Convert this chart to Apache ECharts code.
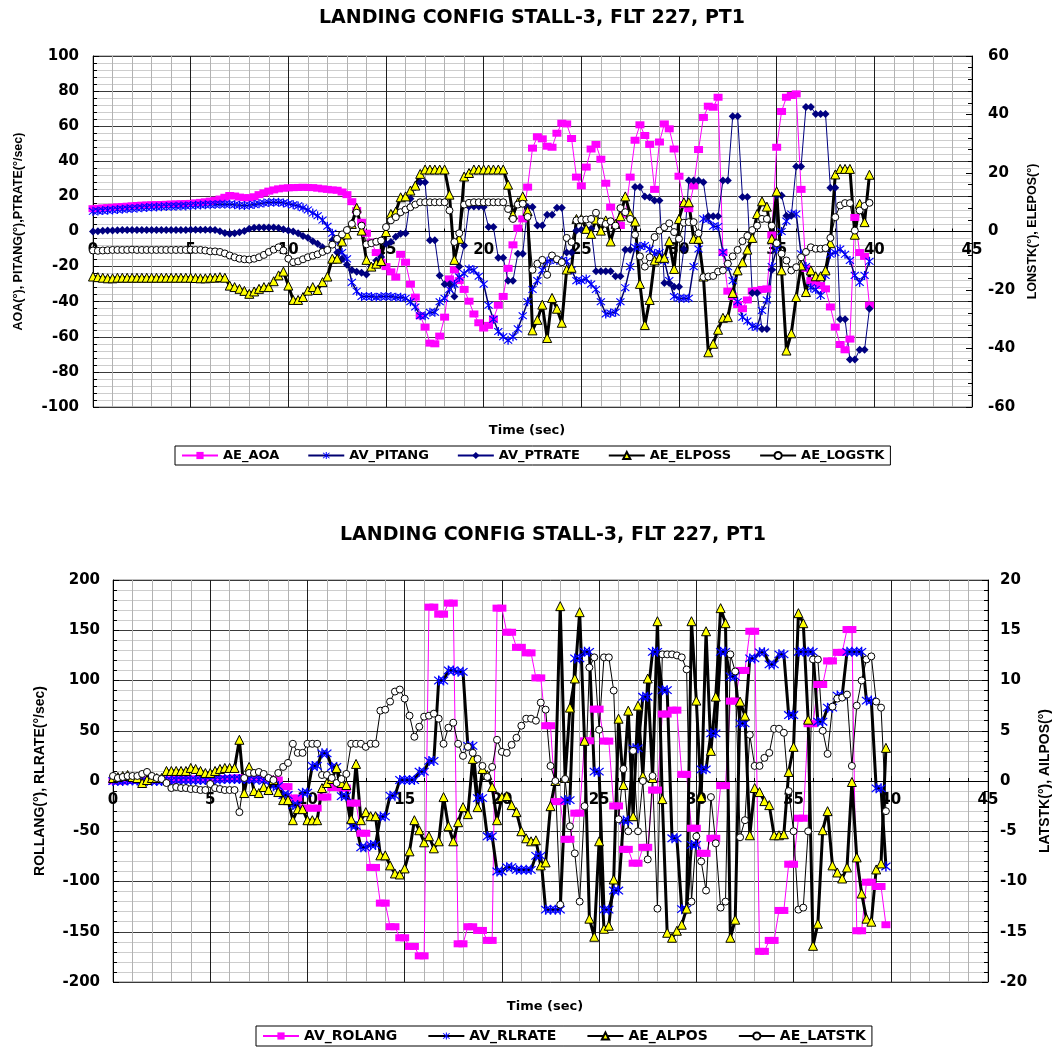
<!DOCTYPE html>
<html>
<head>
<meta charset="utf-8">
<title>Landing config stall-3, FLT 227, PT1</title>
<script src="https://cdn.jsdelivr.net/npm/echarts@6.0.0/dist/echarts.min.js"></script>
<style>
  html, body { margin: 0; padding: 0; background: #fff; }
  #chart { width: 1060px; height: 1049px; }
</style>
</head>
<body>
<div id="chart"></div>
<script>
// flight test channels, one value every sampleStep seconds starting at t = 0
const sampleStep = 0.25;

// ---- upper plot ----
const topTitle = 'LANDING CONFIG STALL-3, FLT 227, PT1';
const topNames = ['AE_AOA', 'AV_PITANG', 'AV_PTRATE', 'AE_ELPOSS', 'AE_LOGSTK'];

// left axis (deg, deg/sec)
const aeAoa = [
  13, 13.2, 13.4, 13.6, 13.8, 14, 14.2, 14.4, 14.6, 14.8, 15, 15.1, 15.2, 15.3, 15.4, 15.5, 15.6, 15.7, 15.8, 15.9,
  16, 16.3, 16.6, 16.9, 17.3, 17.8, 18.5, 19.5, 20.5, 20.2, 19.6, 19.3, 19.2, 19.8, 21, 22, 23, 23.7, 24.3, 24.7,
  24.9, 25, 25.1, 25.2, 25.1, 25, 24.7, 24.3, 24, 23.7, 23.5, 22.5, 21, 17, 12, 5.3, -1, -6, -12, -17.5,
  -20, -23, -26, -13, -17.5, -30, -37.4, -48, -54.5, -63.6, -64, -59.6, -48.8, -27, -21.8, -28, -33, -39.7, -47, -52,
  -55, -53.5, -49.8, -42, -37, -21, -7.6, 1.9, 7.2, 25.3, 47.5, 54, 52.8, 48.6, 48, 56, 61.7, 61.3, 53, 31,
  26, 36.7, 47, 49.6, 41.2, 27.5, 13.9, 4.4, 3.4, 10, 31, 52, 60.8, 54.7, 49.6, 24, 51, 61.3, 58.5, 47,
  31.5, 15.4, 13, 26, 46.7, 65, 71.4, 70.8, 76.5, -12, -34, -37, -41.6, -44, -39, -34, -33.6, -33, -32.7, -2,
  48, 68.4, 76.5, 77.5, 78.4, 24, -21, -28, -29.4, -30.8, -32.7, -43, -54.5, -64.4, -67.4, -61.3, 8, -12, -14.2, -42
];
const avPitang = [
  11.5, 11.7, 11.9, 12.1, 12.3, 12.5, 12.7, 12.9, 13.1, 13.3, 13.5, 13.7, 13.9, 14, 14.1, 14.2, 14.3, 14.4, 14.5, 14.6,
  14.8, 15, 15.1, 15.2, 15.3, 15.4, 15.5, 15.5, 15.5, 15.2, 15, 14.8, 15, 15.4, 15.8, 16.2, 16.5, 16.7, 16.7, 16.3,
  15.8, 15.2, 14.6, 13.5, 12.3, 10.5, 9, 6.5, 3, -1, -5, -12, -15.6, -29, -34, -37, -37, -37, -37.5, -37,
  -37, -37, -37.5, -37.5, -38, -40, -43, -48, -48, -46, -46, -40, -38, -33, -30, -26, -24, -21.3, -22, -25.5,
  -30, -42, -50, -57, -60, -62, -60, -55.5, -48, -40, -33, -28, -22, -17, -16, -16.5, -16.5, -17, -22, -28,
  -28, -27, -30, -33, -40, -47, -46.5, -46, -40, -32, -20, -9, -8.5, -8, -10, -12.7, -12, -16.5, -28, -37,
  -38, -38, -38, -20, -10, 7.2, 7, 3, 2.8, -11.8, -20, -28, -40, -48.8, -51, -54, -54.5, -45, -39, -20,
  -10, 0, 5.9, 10, 10, -12.7, -20, -32, -33, -36.5, -25, -13, -12, -10, -13, -16.5, -25, -29, -25, -17
];
const avPtrate = [
  0, 0.2, 0.4, 0.5, 0.6, 0.7, 0.8, 0.8, 0.8, 0.8, 0.8, 0.8, 0.8, 0.8, 0.8, 0.8, 0.8, 0.8, 0.9, 0.9,
  1, 1, 1, 1, 1, 0.8, 0.2, -0.8, -1.3, -1, -0.4, 0.3, 1.5, 2.2, 2.3, 2.3, 2.3, 2.3, 2, 1.3,
  0.5, 0, -1, -2.5, -3.5, -5.5, -7, -9, -10.8, -5, -12, -15.6, -19, -22, -23, -23.5, -24.5, -20, -16.5, -14.6,
  -7, -6, -3, -1.3, -1, 18.6, 25.3, 28, 28, -5, -5, -25, -30, -30, -37, -20, -8, 14.2, 14.2, 14.2,
  14, 2.5, 2.5, -15, -15, -28, -28, -12.7, -12.7, 13.9, 13.9, 3.4, 3.4, 9.5, 9.5, 13.5, 13.5, -12, -12, 0.6,
  1, 1.5, 1.5, -22.6, -22.6, -22.6, -22.6, -25.5, -25.5, -10.4, -10.4, 25.3, 25.3, 20, 19.5, 17.6, 17.6, -29.4, -29.4, -31.5,
  -31.5, -10, 29, 29, 29, 28, 8.7, 8.7, 8.7, 29, 29, 65.7, 65.7, 19.6, 19.6, -35, -35, -55.5, -55.5, -22,
  20.5, 20.5, 9, 9, 37, 37, 71, 71, 67, 67, 67, 25, 25, -50, -50, -73, -73, -67.4, -67.4, -44
];
// right axis (deg)
const aeElposs = [
  -15.4, -15.6, -15.8, -16, -16, -15.8, -15.8, -15.8, -15.8, -15.8, -15.8, -15.8, -15.8, -15.8, -15.8, -15.8, -15.8, -15.8, -15.8, -15.8,
  -15.8, -15.9, -16, -16, -15.8, -15.8, -15.6, -15.8, -18.5, -19, -19.6, -20.3, -21.3, -20.5, -19.6, -19, -19, -17, -15, -13.7,
  -18.5, -23.4, -23.4, -22.4, -20.2, -19, -20, -17.3, -15.4, -9.3, -9.3, -3.4, -1, 2.6, 8.1, 0.3, -9.7, -12, -11, -10.1,
  -0.2, 6, 6.8, 11.7, 12, 14, 15.7, 19.7, 21.2, 21.2, 21.2, 21.2, 21.2, 12.6, -9.7, -2.5, 18.8, 20, 21.2, 21.2,
  21.2, 21.2, 21.2, 21.2, 21.2, 16, 5.8, 10, 12, 7, -33.8, -30.2, -25, -36.4, -22.7, -26.4, -31.2, -13, -12.4, 4.3,
  4.3, 0.9, -0.8, 4.1, 0.3, 3.8, -3.4, 2.6, 5.2, 12, 6, 3.4, -17.9, -32, -23.4, -9.9, -9, -9, -3.3, -12.8,
  4.3, 10, 10, -2.5, -2.5, -15.4, -41.3, -38.4, -33.6, -29.5, -29.3, -21, -13.3, -10.5, -6.2, -2.2, 6, 10.3, 8.5, -2.5,
  13.7, -13.3, -40.7, -34.8, -22.4, -11.6, -20.7, -13.3, -15.3, -15.3, -13.3, -4, 19.5, 21.4, 21.4, 21.4, -1.1, 9.5, 3.2, 19.4
];
const aeLogstk = [
  -6.5, -6.6, -6.5, -6.4, -6.3, -6.3, -6.3, -6.3, -6.2, -6.3, -6.3, -6.3, -6.3, -6.3, -6.3, -6.3, -6.3, -6.3, -6.3, -6.3,
  -6.2, -6.3, -6.3, -6.5, -6.8, -6.8, -7, -7.5, -8.2, -8.8, -9.3, -9.5, -9.6, -9.3, -8.8, -8, -7, -6.2, -5.4, -6.5,
  -9.3, -10.5, -10.2, -9.5, -8.8, -8.3, -7.8, -7, -6.3, -4.5, -2.5, -1, 0.5, 2.6, 6.4, 2, -4.4, -4, -3.5, -3.1,
  1.5, 3.8, 4.9, 6.6, 7.5, 8.3, 9.2, 10, 10, 10, 10, 10, 10, 7.2, -3.6, -0.6, 9.2, 9.8, 10, 10,
  10, 10, 10, 10, 10, 7.7, 4.3, 9.2, 9.5, 5, -13.1, -11, -9.7, -14.8, -8.2, -9.5, -10.5, -2.2, -3.6, 3.8,
  4, 4.1, 4.3, 6.4, 3.4, 2.6, 3.5, 2, 8, 6.6, 4.3, -1.1, -8.5, -12, -8.8, -1.9, 0.3, 1.5, 2.8, -0.2,
  -2.5, 3, 3.2, 3.2, -0.6, -15.6, -15.4, -15.2, -13.7, -13.3, -11, -8.5, -6.3, -3.3, -1.5, 0.5, 2, 4.3, 4.3, 2,
  -4, -7.6, -9.9, -13.3, -12.2, -8.8, -7, -5.4, -5.9, -5.9, -5.7, -2.2, 4.9, 8.9, 9.7, 9.7, 0.3, 7.2, 8.7, 9.8
];

// ---- lower plot ----
const bottomTitle = 'LANDING CONFIG STALL-3, FLT 227, PT1';
const bottomNames = ['AV_ROLANG', 'AV_RLRATE', 'AE_ALPOS', 'AE_LATSTK'];

// left axis (deg, deg/sec)
const avRolang = [
  0, 0, 0, 0.5, 0.5, 1, 1, 1, 1, 1, 1, 1, 1, 1.5, 1.5, 2, 2, 2, 2, 2,
  2, 2.5, 2.5, 2.5, 2.5, 3, 3, 3, 3, 2.5, 2.5, 2, 2, 1, 1, -5.6, -5.6, -17, -17, -27,
  -27, -27, -27, -16, -16, -6.5, -6.5, -7, -7, -22, -22, -52, -52, -86, -86, -121.5, -121.5, -145, -145, -156,
  -156, -164.6, -164.6, -174, -174, 173, 173, 166, 166, 177, 177, -162, -162, -145, -145, -148.7, -148.7, -158.6, -158.6, 172,
  172, 148, 148, 133, 133, 127.5, 127.5, 102.6, 102.6, 55, 55, -20.5, -20.5, -58, -58, -32, -32, 40, 40, 71.5,
  71.5, 39.7, 39.7, -24.8, -24.8, -68, -68, -81.8, -81.8, -66, -66, -9, -9, 66.6, 66.6, 70.5, 70.5, 6.6, 6.6, -47,
  -47, -72, -72, -57, -57, -4.6, -4.6, 79.5, 79.5, 110, 110, 149, 149, -169.5, -169.5, -158.6, -158.6, -128.8, -128.8, -82.8,
  -82.8, -37, -37, 57, 57, 96, 96, 119.5, 119.5, 128, 128, 150.7, 150.7, -149, -149, -100.7, -100.7, -105, -105, -143
];
const avRlrate = [
  0, 0, 0, 0.5, 0.5, 0.5, 0.5, 0, 0, 0, 0, 0.5, 0.5, 1, 1, 1, 1, 1, 1, 1,
  1, 1.5, 1.5, 2, 2, 2, 2, 2, 2, 1.5, 1.5, 0.5, 0.5, -5, -5, -14, -14, -24, -24, -11.6,
  -11.6, 15, 15, 27.5, 27.5, 14, 14, -15, -15, -44.7, -44.7, -66, -66, -63.6, -63.6, -35.4, -35.4, -14.6, -14.6, 1,
  1, 1, 1, 9.3, 9.3, 20, 20, 100, 100, 110, 110, 108.6, 108.6, 35, 35, -17, -17, -55, -55, -90,
  -90, -85.8, -85.8, -88.4, -88.4, -88.4, -88.4, -74.5, -74.5, -128, -128, -128, -128, -19, -19, 122, 122, 128.5, 128.5, 9.3,
  9.3, -128, -128, -109, -109, -39.4, -39.4, 32.5, 32.5, 83.8, 83.8, 128.5, 128.5, 90.4, 90.4, -57, -57, -127.5, -127.5, -63.6,
  -63.6, 11.6, 11.6, 47.4, 47.4, 128.5, 128.5, 104, 104, 57.3, 57.3, 122, 122, 128, 128, 116, 116, 126, 126, 65.6,
  65.6, 128.5, 128.5, 128.5, 128.5, 59, 59, 73, 73, 85, 85, 128.5, 128.5, 128.5, 128.5, 80, 80, -7.3, -7.3, -85
];
// right axis (deg)
const aeAlpos = [
  0.3, 0.4, 0.5, 0.6, 0.4, 0.3, -0.2, 0.1, 0.3, 0.3, 0.3, 1, 1, 1, 1, 1, 1.3, 1.2, 1, 0.8,
  0.8, 1, 1.2, 1.3, 1.3, 1.3, 4.1, -1.2, 1.4, -1, -1.2, -0.6, -0.9, 0.1, -1.1, -1.9, -1.9, -3.9, -2.8, -2.8,
  -3.9, -3.9, -3.9, -0.7, -0.2, 0.2, 1.3, -0.2, -0.4, -3.8, 1.7, -3.9, -3.1, -3.5, -3.5, -7.4, -7.4, -8.4, -9.2, -9.3,
  -8.7, -7, -3.9, -4.9, -6.1, -5.5, -6.7, -6, -1.6, -4.5, -6, -4.1, -2.6, -3.3, 2.2, -2.6, 1.2, 0.6, -0.6, -3.9,
  -1.6, -1.5, -2.4, -3.1, -5, -5.7, -6, -5.9, -8.4, -8.1, -2.5, 0, 17.4, 0.3, 7.3, 10.2, 16.8, 4, -13.7, -15.5,
  -6, -14.7, -14.4, -9.8, 6.2, -0.4, 7, -3.5, 7.5, 0.5, 10.2, 0.3, 15.9, -1.8, -15.1, -15.6, -14.9, -14.3, -12.7, 15.9,
  8, -1.6, 14.9, 3, 8.4, 17.2, 15.7, -15.6, -13.8, 7.9, 6.5, -5.4, -0.7, -1.1, -2, -2.4, -5.4, -5.4, -5.3, 0.9,
  3.4, 16.7, 15.7, 6.1, -16.4, -14.2, -4.9, -3, -8.4, -9.1, -9.7, -8.6, -0.1, -7.6, -11.2, -13.7, -14, -8.8, -8.2, 3.3
];
const aeLatstk = [
  0.5, 0.3, 0.4, 0.5, 0.5, 0.5, 0.7, 0.9, 0.5, 0.3, 0.2, -0.2, -0.7, -0.6, -0.7, -0.7, -0.8, -0.8, -0.9, -0.9,
  -0.3, -0.7, -0.8, -0.9, -0.9, -0.9, -3.1, 0.3, 0.8, 0.8, 0.9, 0.7, 0.3, 0.1, 0.8, 1.4, 1.8, 3.7, 2.8, 2.8,
  3.7, 3.7, 3.7, 0.6, 0.6, 0.3, -0.2, 0.2, 0.7, 3.7, 3.7, 3.7, 3.4, 3.7, 3.7, 7, 7.1, 7.9, 8.9, 9.1,
  8.2, 6.5, 4.4, 5.4, 6.4, 6.5, 6.7, 6.2, 3.7, 5.3, 5.8, 3.7, 2.5, 3.4, 2.8, 2.2, 1.5, 0.4, 1.4, 4.1,
  2.9, 2.8, 3.6, 4.3, 5.5, 6.2, 6.2, 6, 7.8, 7.1, 1.5, 0, -12.3, 0.2, -4.5, -7.2, -12, -2.5, 11.3, 12.3,
  5.1, 12.3, 12.3, 9, -3.8, 1.2, -5, 3, -5, 0, -7.8, 0.5, -12.7, 12.6, 12.6, 12.6, 12.5, 12.3, 11.1, -12,
  -5.5, -8, -10.9, -1.6, -6.2, -12.6, -12, 12.6, 10.9, -5.6, -3.9, 4.6, 1.5, 1.5, 2.3, 2.8, 5.2, 5.2, 4.8, -1,
  -5, -12.8, -12.6, -5, 12.1, 12.1, 5, 2.7, 7.4, 8.2, 8.3, 8.6, 1.5, 7.5, 10, 12.1, 12.4, 7.9, 7.3, -3
];

// ---- looks ----
const wideFont = 'DejaVu Sans';
const nameFont = 'Liberation Sans';
// excel style asterisk marker: vertical bar plus an X
const asterisk = 'path://M4.4,0L5.6,0L5.6,10L4.4,10Z M0.8,1.6L1.6,0.8L9.2,8.4L8.4,9.2Z M8.4,0.8L9.2,1.6L1.6,9.2L0.8,8.4Z';

const looks = {
  square:   { symbol: 'rect', size: [9, 7], fill: '#ff00ff', line: '#ff00ff', width: 1 },
  star:     { symbol: asterisk, size: 9, fill: '#0000ff', line: '#000070', width: 1.5 },
  starBold: { symbol: asterisk, size: 10, fill: '#0000ff', line: '#000000', width: 3 },
  diamond:  { symbol: 'diamond', size: [8, 8], fill: '#000080', line: '#000080', width: 1 },
  triangle: { symbol: 'triangle', size: 9, fill: '#ffff00', border: '#000000', line: '#000000', width: 3 },
  ring:     { symbol: 'circle', size: 7, fill: '#ffffff', border: '#000000', line: '#000000', width: 1 }
};

function stamp(values) {
  return values.map(function (v, i) { return [i * sampleStep, v]; });
}

function lineSeries(name, values, gridIndex, yAxisIndex, look) {
  return {
    name: name,
    type: 'line',
    xAxisIndex: gridIndex,
    yAxisIndex: yAxisIndex,
    data: stamp(values),
    symbol: look.symbol,
    symbolSize: look.size,
    showSymbol: true,
    lineStyle: { color: look.line, width: look.width },
    itemStyle: {
      color: look.fill,
      borderColor: look.border || look.fill,
      borderWidth: look.border ? 1 : 0
    },
    emphasis: { disabled: true }
  };
}

// time axis drawn along the zero line of the plot (offset pulls it up from the bottom edge)
function timeAxis(gridIndex, zeroOffset, labelMargin) {
  return {
    type: 'value',
    gridIndex: gridIndex,
    position: 'bottom',
    offset: zeroOffset,
    min: 0,
    max: 45,
    interval: 5,
    axisLine: { onZero: false, lineStyle: { color: '#000', width: 1 } },
    axisTick: { show: true, inside: true, length: 5, lineStyle: { color: '#000' } },
    minorTick: { show: true, splitNumber: 5, length: 3, lineStyle: { color: '#000' } },
    axisLabel: { color: '#000', fontFamily: wideFont, fontWeight: 'bold', fontSize: 15, margin: labelMargin },
    splitLine: { show: true, lineStyle: { color: '#1e1e1e', width: 1 } },
    minorSplitLine: { show: true, lineStyle: { color: '#b2b2b2', width: 1 } }
  };
}

function valueAxis(gridIndex, side, min, max, step, name, nameSize, nameGap, labelMargin) {
  const isLeft = side === 'left';
  return {
    type: 'value',
    gridIndex: gridIndex,
    position: side,
    min: min,
    max: max,
    interval: step,
    name: name,
    nameLocation: 'middle',
    nameRotate: 90,
    nameGap: nameGap,
    nameTextStyle: { color: '#000', fontFamily: nameFont, fontWeight: 'bold', fontSize: nameSize },
    axisLine: { show: true, onZero: false, lineStyle: { color: '#000', width: 1 } },
    axisTick: { show: true, inside: true, length: 6, lineStyle: { color: '#000' } },
    minorTick: { show: true, splitNumber: 5, length: 4, lineStyle: { color: '#000' } },
    axisLabel: { color: '#000', fontFamily: wideFont, fontWeight: 'bold', fontSize: 15, margin: labelMargin },
    splitLine: { show: isLeft, lineStyle: { color: '#3a3a3a', width: 1 } },
    minorSplitLine: { show: isLeft, lineStyle: { color: '#cdcdcd', width: 1 } }
  };
}

function legendBox(names, top, left, fontSize, itemGap) {
  return {
    data: names,
    top: top,
    left: left,
    orient: 'horizontal',
    itemWidth: 36,
    itemHeight: 9,
    itemGap: itemGap,
    padding: [3, 6, 3, 6],
    borderColor: '#000',
    borderWidth: 1,
    selectedMode: false,
    textStyle: { color: '#000', fontFamily: wideFont, fontWeight: 'bold', fontSize: fontSize }
  };
}

const chart = echarts.init(document.getElementById('chart'));

const option = {
  animation: false,
  backgroundColor: '#ffffff',
  title: [
    { text: topTitle, left: 527, top: 4, textAlign: 'center',
      textStyle: { color: '#000', fontFamily: wideFont, fontWeight: 'bold', fontSize: 19 } },
    { text: bottomTitle, left: 548, top: 521, textAlign: 'center',
      textStyle: { color: '#000', fontFamily: wideFont, fontWeight: 'bold', fontSize: 19 } },
    { text: 'Time (sec)', left: 522, top: 419, textAlign: 'center',
      textStyle: { color: '#000', fontFamily: wideFont, fontWeight: 'bold', fontSize: 13 } },
    { text: 'Time (sec)', left: 540, top: 995, textAlign: 'center',
      textStyle: { color: '#000', fontFamily: wideFont, fontWeight: 'bold', fontSize: 13 } }
  ],
  legend: [
    legendBox(topNames, 446, 175, 13, 28),
    legendBox(bottomNames, 1026, 256, 14, 30)
  ],
  grid: [
    { left: 93, top: 56, width: 879, height: 351, show: true, borderColor: '#808080', borderWidth: 1 },
    { left: 113, top: 580, width: 880, height: 402, show: true, borderColor: '#808080', borderWidth: 1 }
  ],
  xAxis: [
    timeAxis(0, -175.5, 11),
    timeAxis(1, -201, 12)
  ],
  yAxis: [
    valueAxis(0, 'left', -100, 100, 20, 'AOA(°), PITANG(°),PTRATE(°/sec)', 12.5, 68, 14),
    valueAxis(0, 'right', -60, 60, 20, 'LONSTK(°), ELEPOS(°)', 12.5, 50, 16),
    valueAxis(1, 'left', -200, 200, 50, 'ROLLANG(°), RLRATE(°/sec)', 14, 66, 13),
    valueAxis(1, 'right', -20, 20, 5, 'LATSTK(°), AILPOS(°)', 14, 44, 12)
  ],
  series: [
    lineSeries('AE_AOA', aeAoa, 0, 0, looks.square),
    lineSeries('AV_PITANG', avPitang, 0, 0, looks.star),
    lineSeries('AV_PTRATE', avPtrate, 0, 0, looks.diamond),
    lineSeries('AE_ELPOSS', aeElposs, 0, 1, looks.triangle),
    lineSeries('AE_LOGSTK', aeLogstk, 0, 1, looks.ring),

    lineSeries('AV_ROLANG', avRolang, 1, 2, looks.square),
    lineSeries('AV_RLRATE', avRlrate, 1, 2, looks.starBold),
    lineSeries('AE_ALPOS', aeAlpos, 1, 3, looks.triangle),
    lineSeries('AE_LATSTK', aeLatstk, 1, 3, looks.ring)
  ]
};

chart.setOption(option);
</script>
</body>
</html>
